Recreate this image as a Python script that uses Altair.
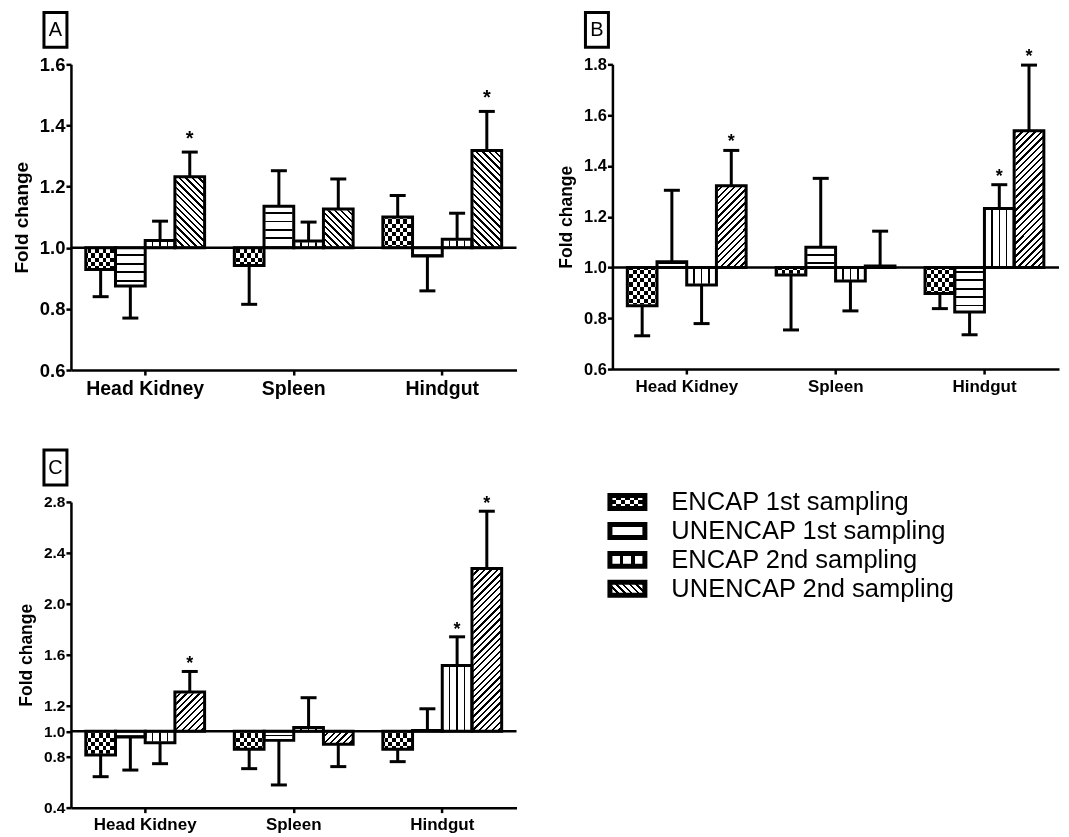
import math
import altair as alt
import pandas as pd

# ---------------- data ----------------
tissues = ["Head Kidney", "Spleen", "Hindgut"]
series = ["ENCAP 1st sampling", "UNENCAP 1st sampling",
          "ENCAP 2nd sampling", "UNENCAP 2nd sampling"]

# rows = series (same order as `series`), columns = tissues
A_values = [[0.929, 0.942, 1.101],
            [0.875, 1.136, 0.973],
            [1.024, 1.022, 1.028],
            [1.232, 1.127, 1.318]]
A_errs = [[0.840, 0.815, 1.171],
          [0.770, 1.252, 0.859],
          [1.087, 1.084, 1.113],
          [1.313, 1.225, 1.446]]
A_stars = [[0, 0, 0], [0, 0, 0], [0, 0, 0], [1, 0, 1]]

B_values = [[0.849, 0.970, 0.898],
            [1.023, 1.080, 0.825],
            [0.931, 0.947, 1.232],
            [1.322, 1.006, 1.538]]
B_errs = [[0.731, 0.754, 0.838],
          [1.304, 1.351, 0.735],
          [0.779, 0.829, 1.326],
          [1.461, 1.143, 1.797]]
B_stars = [[0, 0, 0], [0, 0, 0], [0, 0, 1], [1, 0, 1]]

C_values = [[0.813, 0.858, 0.858],
            [0.954, 0.928, 1.005],
            [0.910, 1.030, 1.516],
            [1.307, 0.897, 2.277]]
C_errs = [[0.643, 0.706, 0.761],
          [0.695, 0.578, 1.176],
          [0.745, 1.263, 1.741],
          [1.469, 0.722, 2.727]]
C_stars = [[0, 0, 0], [0, 0, 0], [0, 0, 1], [1, 0, 1]]

A_ticks = [0.6, 0.8, 1.0, 1.2, 1.4, 1.6]
B_ticks = [0.6, 0.8, 1.0, 1.2, 1.4, 1.6, 1.8]
C_ticks = [0.4, 0.8, 1.0, 1.2, 1.6, 2.0, 2.4, 2.8]

FONT = "Liberation Sans"
CLEAR = "rgba(255,255,255,0)"


# ---------------- hatch patterns as striped gradients ----------------
def stops(n, duty, on, off, phase=0.5):
    out = [(0.0, off)]
    for k in range(-1, n + 1):
        c = (k + phase) / n
        a = max(0.0, c - duty / (2 * n))
        b = min(1.0, c + duty / (2 * n))
        if b <= 0 or a >= 1 or b <= a:
            continue
        out += [(a, off), (a, on), (b, on), (b, off)]
    out.append((1.0, off))
    return [alt.GradientStop(offset=round(o, 5), color=col) for o, col in out]


def grad(stps, x1, y1, x2, y2):
    return alt.LinearGradient(gradient="linear", stops=stps,
                              x1=x1, y1=y1, x2=x2, y2=y2)


def hstripes(H, period, duty, on="black", off="white", phase=0.5):
    n = max(1, round(H / period))
    return grad(stops(n, duty, on, off, phase), 0, 0, 0, 1)


def vstripes(n, duty, on="black", off="white", phase=0.5):
    return grad(stops(n, duty, on, off, phase), 0, 0, 1, 0)


def diag(W, H, period, duty, direction):
    a, b = 1.0 / H, 1.0 / W
    s = (a + b) / (a * a + b * b)
    n = max(1, round((W + H) / math.sqrt(2) / period))
    st = stops(n, duty, "black", "white")
    if direction == "/":
        return grad(st, 0, 0, s * a, s * b)
    return grad(st, 0, 1, s * a, 1 - s * b)


# ---------------- one panel ----------------
def panel(label, values, errs, stars, ymin, ymax, yticks, W, H,
          fs_y, fs_x, fs_title, title_pad, star_fs, star_dy, diag_dir):
    rows = []
    for si, s in enumerate(series):
        for ti, t in enumerate(tissues):
            v = values[si][ti]
            rows.append(dict(tissue=t, series=s, value=v, err=errs[si][ti],
                             star=bool(stars[si][ti]), one=1.0,
                             lo=ymin, hi=ymax, low=min(v, 1.0), high=max(v, 1.0)))
    df = pd.DataFrame(rows)
    bw = W / 3 * 0.8 / 4

    xenc = alt.X("tissue:N", sort=tissues,
                 scale=alt.Scale(domain=tissues, paddingInner=0.2, paddingOuter=0.1),
                 axis=alt.Axis(title=None, labelAngle=0, labelFont=FONT,
                               labelFontSize=fs_x, labelFontWeight="bold",
                               labelColor="black", labelPadding=4,
                               domainColor="black", domainWidth=2.5,
                               tickColor="black", tickWidth=2.5, tickSize=5,
                               grid=False, zindex=1))
    xoff = alt.XOffset("series:N", sort=series,
                       scale=alt.Scale(domain=series, paddingInner=0, paddingOuter=0))
    yscale = alt.Scale(domain=[ymin, ymax], nice=False, zero=False)
    yaxis = alt.Axis(values=yticks, format=".1f", labelFont=FONT,
                     labelFontSize=fs_y, labelFontWeight="bold", labelColor="black",
                     labelPadding=1, domainColor="black", domainWidth=2.5,
                     tickColor="black", tickWidth=2.5, tickSize=5, grid=False,
                     titleFont=FONT, titleFontSize=fs_title, titleFontWeight="bold",
                     titleColor="black", titlePadding=title_pad, zindex=1)

    def Y(f):
        return alt.Y(f"{f}:Q", scale=yscale, axis=yaxis, title="Fold change")

    base = alt.Chart(df)

    def sel(s):
        return base.transform_filter(alt.datum.series == s)

    col = dict(x=xenc, xOffset=xoff, y=Y("lo"), y2=alt.Y2("hi"))

    layers = [
        sel(series[0]).mark_bar(fill=hstripes(H, 8.4, 0.5)).encode(**col),
        sel(series[0]).mark_bar(fill=vstripes(4, 0.5, "white", CLEAR),
                                blend="difference").encode(**col),
        sel(series[1]).mark_bar(fill=hstripes(H, 8.5, 0.22)).encode(**col),
        sel(series[2]).mark_bar(fill=vstripes(4, 0.2, "black", "white", phase=0)).encode(**col),
        sel(series[3]).mark_bar(fill=diag(bw, H, 4.6, 0.36, diag_dir)).encode(**col),
        # white masks outside each bar (white stroke hides anti-aliased edges)
        base.mark_bar(fill="white", stroke="white", strokeWidth=2.5).encode(
            x=xenc, xOffset=xoff, y=Y("lo"), y2=alt.Y2("low")),
        base.mark_bar(fill="white", stroke="white", strokeWidth=2.5).encode(
            x=xenc, xOffset=xoff, y=Y("high"), y2=alt.Y2("hi")),
        # bar outlines
        base.mark_bar(fillOpacity=0, stroke="black", strokeWidth=3).encode(
            x=xenc, xOffset=xoff, y=Y("value"), y2=alt.Y2("one")),
        # error bars
        base.mark_rule(color="black", strokeWidth=3).encode(
            x=xenc, xOffset=xoff, y=Y("value"), y2=alt.Y2("err")),
        base.mark_tick(orient="horizontal", size=16, thickness=3,
                       color="black", opacity=1).encode(
            x=xenc, xOffset=xoff, y=Y("err")),
        # reference line at 1.0
        alt.Chart(pd.DataFrame({"b": [1.0]})).mark_rule(
            color="black", strokeWidth=2.5).encode(y=Y("b")),
        # significance stars
        base.transform_filter("datum.star").mark_text(
            text="*", font=FONT, fontSize=star_fs, fontWeight="bold",
            baseline="alphabetic", dy=star_dy, color="black").encode(
            x=xenc, xOffset=xoff, y=Y("err")),
        # boxed panel letter
        alt.Chart(pd.DataFrame({"t": [label]})).mark_rect(
            fill="white", stroke="black", strokeWidth=3).encode(
            x=alt.value(-27), x2=alt.value(-4), y=alt.value(-52), y2=alt.value(-17)),
        alt.Chart(pd.DataFrame({"t": [label]})).mark_text(
            font=FONT, fontSize=20, align="center", baseline="middle",
            color="black").encode(x=alt.value(-15.5), y=alt.value(-34), text="t:N"),
    ]
    return alt.layer(*layers).properties(width=W, height=H)


A = panel("A", A_values, A_errs, A_stars, 0.6, 1.6, A_ticks, 446, 306,
          18.5, 19.5, 19, 8, 20, -7, "\\")
B = panel("B", B_values, B_errs, B_stars, 0.6, 1.8, B_ticks, 447, 305,
          16.5, 17, 17.5, 8, 18, -3, "/")
C = panel("C", C_values, C_errs, C_stars, 0.4, 2.8, C_ticks, 446, 306,
          15.5, 17, 17.5, 8, 18, -2, "/")

# ---------------- legend ----------------
leg = pd.DataFrame({"series": series, "idx": [0, 1, 2, 3]})
leg["lo"] = leg["idx"] - 0.224
leg["hi"] = leg["idx"] + 0.224
lscale = alt.Scale(domain=[0, 3], reverse=True, nice=False, zero=False)


def LY(f):
    return alt.Y(f"{f}:Q", scale=lscale, axis=None)


lbase = alt.Chart(leg)
sw = dict(x=alt.value(-2.5), x2=alt.value(32.5), y=LY("lo"), y2=alt.Y2("hi"))


def lsel(s):
    return lbase.transform_filter(alt.datum.series == s)


legend = alt.layer(
    lsel(series[0]).mark_bar(fill=hstripes(13, 8, 0.5)).encode(**sw),
    lsel(series[0]).mark_bar(fill=vstripes(4, 0.5, "white", CLEAR),
                             blend="difference").encode(**sw),
    lsel(series[1]).mark_bar(fill="white").encode(**sw),
    lsel(series[2]).mark_bar(fill=vstripes(3, 0.3, "black", "white", phase=0)).encode(**sw),
    lsel(series[3]).mark_bar(fill=diag(35, 13, 5, 0.4, "\\")).encode(**sw),
    lbase.mark_bar(fillOpacity=0, stroke="black", strokeWidth=5).encode(**sw),
    lbase.mark_text(align="left", baseline="middle", font=FONT, fontSize=25.5,
                    color="black").encode(x=alt.value(59), y=LY("idx"), text="series:N"),
).properties(width=380, height=87)

chart = alt.concat(A, B, C, legend, columns=2, bounds="flush",
                   spacing={"row": 132, "column": 96}).properties(
    padding={"left": 4, "top": 2, "right": 0, "bottom": 0}
).configure(font=FONT).configure_view(strokeWidth=0)

chart.save("out.html", embed_options={"renderer": "svg", "actions": False})
